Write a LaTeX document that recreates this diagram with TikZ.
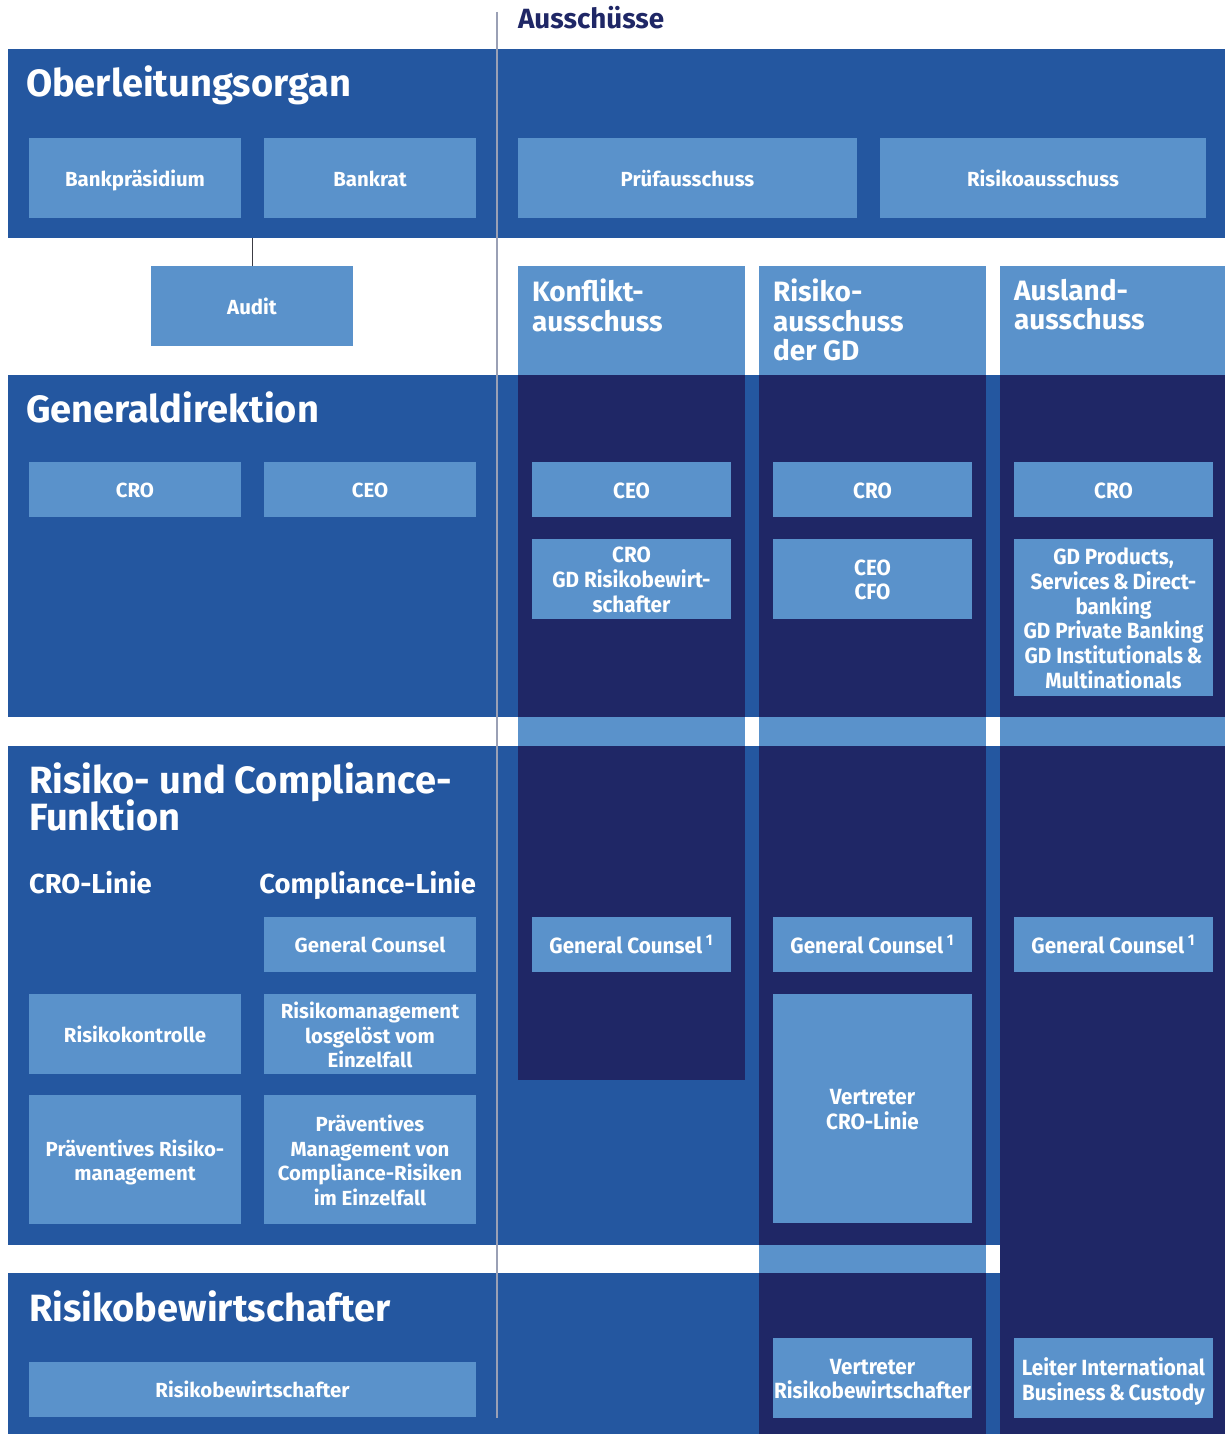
\documentclass[tikz,border=0pt]{standalone}
\usepackage{fontspec}
\setmainfont{Fira Sans}
\newfontfamily\condf{Fira Sans}[FakeStretch=0.94]
\definecolor{midblue}{HTML}{2457A0}
\definecolor{navy}{HTML}{1F2766}
\definecolor{lightblue}{HTML}{5A92CB}
\definecolor{rulegrey}{HTML}{9AA0B5}
\definecolor{linkgrey}{HTML}{3C3C44}

% fixed line distance for stacked heading lines
\newcommand\tightlines{\lineskiplimit=-20pt \lineskip=0pt\relax}

% plain filled area from pixel corners (x1,y1)-(x2,y2)
\newcommand\mkrect[6]{%
  \pgfmathsetmacro\mkw{(#5-#3)*0.5}%
  \pgfmathsetmacro\mkh{(#6-#4)*0.5}%
  \node[#1,minimum width=\mkw pt,minimum height=\mkh pt] (#2) at ({(#3+#5)/2},{(#4+#6)/2}) {};}

% light box with its centred label
\newcommand\mkbox[7][ltext]{%
  \mkrect{lbox}{#2}{#3}{#4}{#5}{#6}%
  \node[#1] (#2t) at (#2.center) {#7};}

\begin{document}
\begin{tikzpicture}[x=0.5pt,y=-0.5pt,
  plain/.style={inner sep=0pt,outer sep=0pt,draw=none},
  band/.style={plain,fill=midblue},
  col/.style={plain,fill=navy},
  lbox/.style={plain,fill=lightblue},
  ltext/.style={plain,text=white,align=center,yshift=-0.6pt,
    font={\bfseries\fontsize{10.2}{12.25}\selectfont},
    execute at begin node={\vphantom{Äg}},
    execute at end node={\vphantom{Äg}}},
  rtext/.style={ltext,font={\condf\bfseries\fontsize{11}{12.35}\selectfont}},
  ml/.style={yshift=-1pt},
  title/.style={plain,text=white,anchor=base west,
    font={\bfseries\fontsize{19}{18.5}\selectfont}},
  title2/.style={plain,text=white,anchor=north west,align=left,
    font={\bfseries\fontsize{19}{18.5}\selectfont\tightlines}},
  colhead/.style={plain,text=white,anchor=north west,align=left,
    font={\bfseries\fontsize{14}{14.75}\selectfont}},
  subhead/.style={plain,text=white,
    font={\bfseries\fontsize{13.7}{14}\selectfont}},
  vline/.style={draw=rulegrey,line width=0.6pt},
  link/.style={draw=linkgrey,line width=0.5pt}]

\fill[white] (0,0) rectangle (1225,1434);
\useasboundingbox (0,0) rectangle (1225,1434);

% horizontal bands
\mkrect{band}{bandO}{8}{49}{1225}{238}
\mkrect{band}{bandG}{8}{375}{1225}{717}
\mkrect{band}{bandR}{8}{746}{1225}{1245}
\mkrect{band}{bandB}{8}{1273}{1225}{1434}

% committee columns
\mkrect{col}{colK1}{518}{375}{745}{717}
\mkrect{col}{colK2}{518}{746}{745}{1080}
\mkrect{col}{colR1}{759}{375}{986}{717}
\mkrect{col}{colR2}{759}{746}{986}{1245}
\mkrect{col}{colR3}{759}{1273}{986}{1434}
\mkrect{col}{colA1}{1000}{375}{1225}{717}
\mkrect{col}{colA2}{1000}{746}{1225}{1434}

% committee headers and connecting strips
\mkrect{lbox}{hK}{518}{266}{745}{375}
\mkrect{lbox}{hR}{759}{266}{986}{375}
\mkrect{lbox}{hA}{1000}{266}{1225}{375}
\mkrect{lbox}{sK}{518}{717}{745}{746}
\mkrect{lbox}{sR}{759}{717}{986}{746}
\mkrect{lbox}{sA}{1000}{717}{1225}{746}
\mkrect{lbox}{sR2}{759}{1245}{986}{1273}

% headings
\node[plain,anchor=base west,text=navy,font={\bfseries\fontsize{13.9}{14}\selectfont}] (aus) at (518,29) {Ausschüsse};
\node[title] (tO) at (26,97) {Oberleitungsorgan};
\node[title] (tG) at (26,422) {Generaldirektion};
\node[title2] (tR) at (29,763) {Risiko- und Compliance-\\Funktion};
\node[title] (tB) at (29,1321) {Risikobewirtschafter};
\node[colhead] (thK) at (532,279) {Konflikt-\\ausschuss};
\node[colhead] (thR) at (773,279) {Risiko-\\ausschuss\\der GD};
\node[colhead] (thA) at (1014,279) {Ausland-\\ausschuss};
\node[subhead,anchor=base west] (lcro) at (29,893) {CRO-Linie};
\node[subhead,anchor=base east] (lcomp) at (476,893) {Compliance-Linie};

% Oberleitungsorgan
\mkbox{bpraes}{29}{138}{241}{218}{Bankpräsidium}
\mkbox{brat}{264}{138}{476}{218}{Bankrat}
\mkbox{pruef}{518}{138}{857}{218}{Prüfausschuss}
\mkbox{risa}{880}{138}{1206}{218}{Risikoausschuss}
\mkbox{audit}{151}{266}{353}{346}{Audit}

% Generaldirektion
\mkbox{gCRO}{29}{462}{241}{517}{CRO}
\mkbox{gCEO}{264}{462}{476}{517}{CEO}
\mkbox[rtext]{kCEO}{532}{462}{731}{517}{CEO}
\mkbox[rtext,ml]{kCRO}{532}{539}{731}{619}{CRO\\GD Risikobewirt-\\schafter}
\mkbox[rtext]{rCRO}{773}{462}{972}{517}{CRO}
\mkbox[rtext,ml]{rCEO}{773}{539}{972}{619}{CEO\\CFO}
\mkbox[rtext]{aCRO}{1014}{462}{1213}{517}{CRO}
\mkbox[rtext,ml]{aGD}{1014}{539}{1213}{696}{GD Products,\\Services\,\&\,Direct-\\banking\\GD Private Banking\\GD Institutionals\,\&\\Multinationals}

% Risiko- und Compliance-Funktion
\mkbox{gc}{264}{917}{476}{972}{General Counsel}
\mkbox{rk}{29}{994}{241}{1074}{Risikokontrolle}
\mkbox[ltext,ml]{rm}{264}{994}{476}{1074}{Risikomanagement\\losgelöst vom\\Einzelfall}
\mkbox[ltext,ml]{pr}{29}{1095}{241}{1224}{Präventives Risiko-\\management}
\mkbox[ltext,ml]{pm}{264}{1095}{476}{1224}{Präventives\\Management von\\Compliance-Risiken\\im Einzelfall}
\mkbox[rtext]{kGC}{532}{917}{731}{972}{General Counsel\,\textsuperscript{1}}
\mkbox[rtext]{rGC}{773}{917}{972}{972}{General Counsel\,\textsuperscript{1}}
\mkbox[rtext]{aGC}{1014}{917}{1213}{972}{General Counsel\,\textsuperscript{1}}
\mkbox[rtext,ml]{rVt}{773}{994}{972}{1223}{Vertreter\\CRO-Linie}

% Risikobewirtschafter
\mkbox{rb}{29}{1362}{476}{1417}{Risikobewirtschafter}
\mkbox[rtext,ml]{rVR}{773}{1338}{972}{1418}{Vertreter\\Risikobewirtschafter}
\mkbox[rtext,ml]{aLI}{1014}{1338}{1213}{1418}{Leiter International\\Business\,\&\,Custody}

% connector and separator rule
\draw[link] (audit.north) -- (audit.north |- bandO.south);
\coordinate (vtop) at (497,12);
\coordinate (vbot) at (497,1418);
\draw[vline] (vtop) -- (vbot);
\end{tikzpicture}
\end{document}
